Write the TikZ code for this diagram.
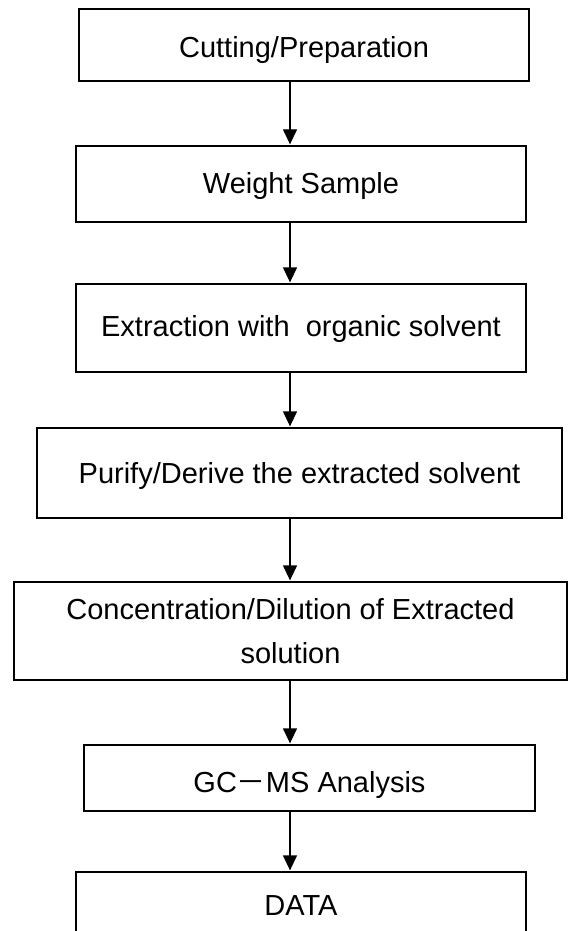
\documentclass[tikz,border=0pt]{standalone}
\usepackage{fontspec}
\setmainfont{Liberation Sans}
\newfontfamily\cjk{Noto Sans CJK SC}
\usetikzlibrary{arrows.meta}
\begin{document}
\begin{tikzpicture}[x=1pt,y=-1pt,
  stepbox/.style={draw=black, line width=1.7pt, rectangle, inner sep=0pt, align=center,
    font=\fontsize{29}{43.5}\selectfont},
  bl/.style={text height=#1, text depth=0pt},
  flow/.style={draw=black, line width=1.3pt, -{Triangle[width=14pt,length=15pt]}, shorten >=0.8pt}]
\useasboundingbox (0,0) rectangle (569,931);
\clip (0,0) rectangle (569,931);
\fill[white] (0,0) rectangle (569,931);
\coordinate (ax) at (290,0);
\node[stepbox, bl=24.8pt, minimum width=450pt, minimum height=72pt] (b1) at (304,45) {Cutting/Preparation};
\node[stepbox, bl=18.8pt, minimum width=450pt, minimum height=76pt] (b2) at (301,184) {Weight Sample};
\node[stepbox, bl=16.8pt, minimum width=450pt, minimum height=88pt] (b3) at (301,328) {Extraction with\ \ organic solvent};
\node[stepbox, bl=20.8pt, minimum width=525pt, minimum height=90pt] (b4) at (299.5,473) {Purify/Derive the extracted solvent};
\node[stepbox, minimum width=553pt, minimum height=98pt] (b5) at (290.5,631) {Concentration/Dilution of Extracted\\solution};
\node[stepbox, bl=28.8pt, minimum width=451pt, minimum height=66pt] (b6) at (309.5,778) {GC{\cjk －}MS Analysis};
\node[stepbox, text height=10pt, text depth=11.2pt, minimum width=450pt, minimum height=88pt] (b7) at (301,916) {DATA};
\draw[flow] (b1.south -| ax) -- (b2.north -| ax);
\draw[flow] (b2.south -| ax) -- (b3.north -| ax);
\draw[flow] (b3.south -| ax) -- (b4.north -| ax);
\draw[flow] (b4.south -| ax) -- (b5.north -| ax);
\draw[flow] (b5.south -| ax) -- (b6.north -| ax);
\draw[flow] (b6.south -| ax) -- (b7.north -| ax);
\end{tikzpicture}
\end{document}
